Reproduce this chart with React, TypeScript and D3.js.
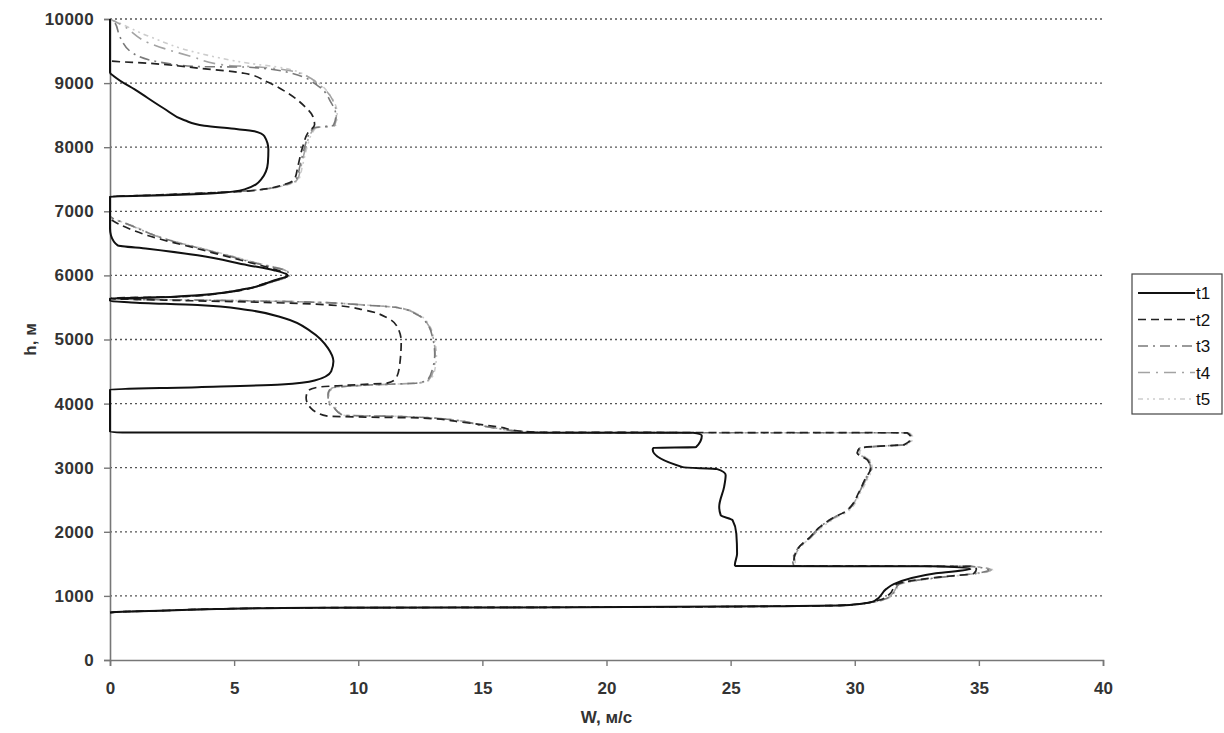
import { useRef, useEffect } from 'react';
import * as d3 from 'd3';

type Pt = [number, number]; // [W, h]

const xTicks = [0, 5, 10, 15, 20, 25, 30, 35, 40];
const yTicks = [0, 1000, 2000, 3000, 4000, 5000, 6000, 7000, 8000, 9000, 10000];
const seriesNames = ['t1', 't2', 't3', 't4', 't5'];

const t1: Pt[] = [
  [0, 740], [0.5, 753], [2.3, 772], [4.3, 796], [8.3, 815], [19, 823], [27.7, 842], [29.4, 852],
  [30.2, 874], [30.8, 922], [31.26, 1105], [31.57, 1184], [33.27, 1352], [34.66, 1420], [33.1, 1462],
  [25.2, 1467], [25.17, 1483], [25.26, 1656], [25.23, 1970], [25.08, 2180], [24.6, 2259], [24.54, 2390],
  [24.74, 2705], [24.8, 2888], [24.46, 2977], [23.07, 3009], [21.86, 3282], [21.9, 3310], [23.6, 3320],
  [23.84, 3500], [23.5, 3544], [0.5, 3550], [0, 3560], [0, 4220], [3.53, 4256], [6.9, 4297], [8.24, 4359],
  [8.91, 4504], [9.0, 4659], [8.78, 4866], [8.1, 5124], [7.03, 5331], [5.55, 5460], [3.53, 5537],
  [0.85, 5579], [0, 5600], [0, 5640], [1.52, 5651], [3.53, 5692], [5.55, 5796], [6.63, 5925], [7.16, 6000],
  [6.6, 6080], [5.55, 6160], [3.53, 6313], [1.52, 6416], [0.31, 6468], [0.04, 6623], [0, 6726], [0, 7228],
  [2.19, 7249], [4.2, 7280], [5.42, 7342], [6.09, 7497], [6.36, 7756], [6.38, 7964], [6.22, 8171],
  [5.82, 8249], [4.88, 8290], [3.8, 8335], [3.0, 8420], [2.19, 8600], [1.12, 8870], [0.17, 9104],
  [0, 9166], [0, 10000],
];

const t2: Pt[] = [
  [0, 740], [0.5, 753], [2.3, 772], [4.3, 796], [8.3, 815], [19, 823], [27.7, 842], [29.4, 852],
  [30.2, 874], [30.6, 900], [31.1, 948], [31.4, 1027], [31.7, 1184], [33.3, 1289], [34.8, 1352],
  [34.9, 1420], [34.66, 1460], [27.55, 1467], [27.55, 1551], [27.7, 1735], [28.2, 1918], [28.6, 2076],
  [29.2, 2233], [29.6, 2311], [30.18, 2626], [30.4, 2810], [30.64, 2993], [30.5, 3124], [30.1, 3229],
  [30.2, 3308], [30.9, 3334], [32.0, 3360], [32.26, 3465], [32.1, 3544], [17.3, 3553], [16.6, 3568],
  [15.7, 3632], [14.17, 3710], [12.63, 3774], [10.3, 3790], [8.76, 3805], [8.3, 3868], [8.1, 3925],
  [7.9, 4090], [7.97, 4194], [8.37, 4256], [9.58, 4287], [11.2, 4323], [11.53, 4400], [11.67, 4607],
  [11.73, 4969], [11.6, 5176], [11.2, 5331], [10.25, 5460], [8.91, 5537], [6.22, 5579], [2.19, 5615],
  [0, 5640], [0.3, 5651], [2.86, 5667], [4.88, 5744], [6.22, 5873], [7.16, 6000], [6.76, 6080],
  [5.55, 6209], [3.53, 6416], [1.52, 6623], [0.1, 6855], [0, 6880], [0, 7228], [1.52, 7249], [3.53, 7280],
  [5.55, 7316], [7.03, 7420], [7.43, 7497], [7.57, 7705], [7.77, 8016], [7.97, 8223], [8.24, 8352],
  [8.17, 8482], [7.84, 8637], [7.16, 8845], [6.3, 9024], [5.4, 9154], [3.6, 9232], [1.6, 9309],
  [0, 9349], [0, 10000],
];

const t3: Pt[] = [
  [0, 740], [0.5, 753], [2.3, 772], [4.3, 796], [8.3, 815], [19, 823], [27.7, 842], [29.4, 852],
  [30.2, 874], [30.7, 900], [31.2, 948], [31.5, 1027], [31.8, 1184], [33.4, 1289], [34.9, 1352],
  [35.4, 1404], [34.7, 1460], [27.55, 1467], [27.5, 1551], [27.7, 1735], [28.2, 1918], [28.6, 2076],
  [29.2, 2233], [29.6, 2311], [30.2, 2626], [30.4, 2810], [30.64, 2993], [30.5, 3124], [30.1, 3229],
  [30.2, 3308], [30.9, 3334], [32.0, 3360], [32.3, 3465], [32.1, 3544], [18, 3548], [16.8, 3560],
  [15.5, 3620], [13.4, 3763], [11.1, 3805], [9.4, 3816], [8.9, 3974], [8.84, 3987], [8.78, 4142],
  [8.9, 4245], [10.25, 4287], [12.4, 4323], [12.8, 4375], [13.0, 4556], [13.08, 4762], [13.0, 5021],
  [12.8, 5227], [12.4, 5382], [11.6, 5496], [10.25, 5537], [7.57, 5589], [3.53, 5615], [0.5, 5630],
  [0, 5640], [0.5, 5648], [3, 5670], [5, 5760], [6.5, 5899], [7.23, 6013], [7.03, 6080], [5.95, 6183],
  [4.2, 6364], [2.19, 6571], [0.85, 6778], [0, 6933], [0, 7228], [1.52, 7249], [3.53, 7282],
  [5.55, 7320], [7.1, 7420], [7.5, 7497], [7.65, 7705], [7.85, 8016], [8.05, 8223], [8.2, 8300],
  [9.0, 8340], [9.1, 8500], [8.9, 8700], [8.4, 8950], [7.3, 9155], [5.5, 9250], [3.6, 9257],
  [2.3, 9309], [0.93, 9465], [0.4, 9720], [0.2, 9940], [0, 10000],
];

const t4: Pt[] = [
  [0, 740], [0.5, 753], [2.3, 772], [4.3, 796], [8.3, 815], [19, 823], [27.7, 842], [29.4, 852],
  [30.2, 874], [30.7, 900], [31.2, 948], [31.5, 1027], [31.8, 1184], [33.4, 1289], [34.9, 1352],
  [35.5, 1404], [34.7, 1460], [27.6, 1467], [27.55, 1551], [27.75, 1735], [28.25, 1918], [28.65, 2076],
  [29.25, 2233], [29.65, 2311], [30.2, 2626], [30.45, 2810], [30.68, 2993], [30.55, 3124], [30.15, 3229],
  [30.25, 3308], [30.95, 3334], [32.05, 3360], [32.3, 3465], [32.15, 3544], [18, 3548], [16.8, 3560],
  [15.5, 3620], [13.4, 3763], [11.1, 3805], [9.4, 3816], [8.9, 3974], [8.84, 3987], [8.8, 4142],
  [8.95, 4245], [10.3, 4287], [12.45, 4323], [12.85, 4375], [13.05, 4556], [13.1, 4762], [13.02, 5021],
  [12.82, 5227], [12.42, 5382], [11.62, 5496], [10.3, 5537], [7.6, 5589], [3.55, 5615], [0.5, 5630],
  [0, 5640], [0.5, 5648], [3.1, 5672], [5.1, 5762], [6.55, 5900], [7.25, 6013], [7.05, 6080],
  [6.0, 6183], [4.25, 6364], [2.2, 6571], [0.85, 6778], [0, 6933], [0, 7228], [1.55, 7249],
  [3.55, 7282], [5.6, 7320], [7.15, 7420], [7.55, 7497], [7.7, 7705], [7.9, 8016], [8.1, 8223],
  [8.25, 8300], [9.05, 8335], [9.12, 8500], [8.95, 8750], [8.5, 8950], [7.5, 9170], [6, 9250],
  [4.6, 9282], [3.3, 9413], [1.6, 9620], [0.5, 9900], [0, 10000],
];

const t5: Pt[] = [
  [0, 740], [0.5, 753], [2.3, 772], [4.3, 796], [8.3, 815], [19, 823], [27.7, 842], [29.4, 852],
  [30.2, 874], [30.75, 900], [31.25, 948], [31.55, 1027], [31.85, 1184], [33.5, 1289], [35.0, 1352],
  [35.55, 1404], [34.75, 1460], [27.6, 1467], [27.6, 1551], [27.75, 1735], [28.25, 1918], [28.7, 2076],
  [29.3, 2233], [29.7, 2311], [30.25, 2626], [30.5, 2810], [30.7, 2993], [30.6, 3124], [30.2, 3229],
  [30.3, 3308], [31.0, 3334], [32.1, 3360], [32.35, 3465], [32.2, 3544], [18, 3548], [16.8, 3560],
  [15.5, 3620], [13.4, 3763], [11.1, 3805], [9.45, 3816], [8.95, 3974], [8.88, 3987], [8.82, 4142],
  [8.98, 4245], [10.35, 4287], [12.5, 4323], [12.9, 4375], [13.1, 4556], [13.15, 4762], [13.05, 5021],
  [12.85, 5227], [12.45, 5382], [11.65, 5496], [10.35, 5537], [7.65, 5589], [3.6, 5615], [0.5, 5630],
  [0, 5640], [0.5, 5648], [3.1, 5672], [5.1, 5762], [6.6, 5900], [7.28, 6013], [7.08, 6080],
  [6.05, 6183], [4.3, 6364], [2.25, 6571], [0.9, 6778], [0, 6933], [0, 7228], [1.6, 7249],
  [3.6, 7282], [5.65, 7320], [7.2, 7420], [7.6, 7497], [7.75, 7705], [7.95, 8016], [8.15, 8223],
  [8.3, 8300], [9.1, 8346], [9.15, 8533], [8.9, 8788], [8.2, 9048], [7, 9235], [5.6, 9309],
  [3.6, 9465], [1.6, 9724], [0.3, 9950], [0, 10000],
];

const seriesData = [t1, t2, t3, t4, t5];
const seriesColor = ['#111111', '#222222', '#7a7a7a', '#a3a3a3', '#cdcdcd'];
const seriesDash = ['none', '8,5', '10,5,2,5', '12,6,2,6', '5,4,2,4,2,4'];
const seriesWidth = [2, 1.7, 1.6, 1.6, 1.6];

function App() {
  const svgRef = useRef<SVGSVGElement | null>(null);
  const width = 1224;
  const height = 733;

  useEffect(() => {
    const svg = d3.select(svgRef.current);
    svg.selectAll('*').remove();

    const margin = { top: 19, right: 121, bottom: 73, left: 110 };

    const x = d3.scaleLinear().domain([0, 40]).range([margin.left, width - margin.right]);
    const y = d3.scaleLinear().domain([0, 10000]).range([height - margin.bottom, margin.top]);

    svg.append('rect').attr('width', width).attr('height', height).attr('fill', '#fff');

    // dotted horizontal grid
    svg
      .append('g')
      .selectAll('line')
      .data(yTicks.filter((d) => d > 0))
      .join('line')
      .attr('x1', x(0))
      .attr('x2', x(40))
      .attr('y1', (d) => y(d))
      .attr('y2', (d) => y(d))
      .attr('stroke', '#555')
      .attr('stroke-width', 1.3)
      .attr('stroke-dasharray', '2,3');

    const axisFont = '"Liberation Sans", Arial, sans-serif';

    svg
      .append('g')
      .attr('transform', `translate(${x(0)},0)`)
      .call(d3.axisLeft(y).tickValues(yTicks).tickSize(6).tickPadding(10).tickFormat((d) => `${d}`))
      .call((g) => g.select('.domain').attr('stroke', '#777').attr('stroke-width', 1.6))
      .call((g) => g.selectAll('.tick line').attr('stroke', '#777').attr('stroke-width', 1.4))
      .call((g) =>
        g
          .selectAll('.tick text')
          .attr('fill', '#333')
          .attr('font-size', 17)
          .attr('font-weight', 'bold')
          .attr('font-family', axisFont)
          .style('letter-spacing', '0.4px')
      );

    svg
      .append('g')
      .attr('transform', `translate(0,${y(0)})`)
      .call(d3.axisBottom(x).tickValues(xTicks).tickSize(6).tickPadding(16).tickFormat((d) => `${d}`))
      .call((g) => g.select('.domain').attr('stroke', '#777').attr('stroke-width', 1.6))
      .call((g) => g.selectAll('.tick line').attr('stroke', '#777').attr('stroke-width', 1.4))
      .call((g) =>
        g
          .selectAll('.tick text')
          .attr('fill', '#333')
          .attr('font-size', 17)
          .attr('font-weight', 'bold')
          .attr('font-family', axisFont)
      );

    svg
      .append('text')
      .attr('x', (x(0) + x(40)) / 2)
      .attr('y', 723)
      .attr('text-anchor', 'middle')
      .attr('fill', '#333')
      .attr('font-size', 17)
      .attr('font-weight', 'bold')
      .attr('font-family', axisFont)
      .text('W, м/с');

    svg
      .append('text')
      .attr('transform', `translate(36,${y(5000)}) rotate(-90)`)
      .attr('text-anchor', 'middle')
      .attr('fill', '#333')
      .attr('font-size', 17)
      .attr('font-weight', 'bold')
      .attr('font-family', axisFont)
      .text('h, м');

    // profiles are W(h) with h ascending, so interpolate monotonically along h
    const line = d3
      .line<Pt>()
      .x((d) => x(d[0]))
      .y((d) => y(d[1]))
      .curve(d3.curveMonotoneY);

    // draw lighter series first so the black ones stay on top
    [4, 3, 2, 1, 0].forEach((i) => {
      svg
        .append('path')
        .datum(seriesData[i])
        .attr('fill', 'none')
        .attr('stroke', seriesColor[i])
        .attr('stroke-width', seriesWidth[i])
        .attr('stroke-dasharray', seriesDash[i])
        .attr('stroke-linejoin', 'round')
        .attr('d', line);
    });

    // legend
    const legend = svg.append('g').attr('transform', 'translate(1132,274)');
    legend
      .append('rect')
      .attr('width', 90)
      .attr('height', 140)
      .attr('fill', '#fff')
      .attr('stroke', '#444')
      .attr('stroke-width', 1.2);

    seriesNames.forEach((name, i) => {
      const ly = 19 + i * 26.5;
      legend
        .append('line')
        .attr('x1', 6)
        .attr('x2', 63)
        .attr('y1', ly)
        .attr('y2', ly)
        .attr('stroke', seriesColor[i])
        .attr('stroke-width', seriesWidth[i])
        .attr('stroke-dasharray', seriesDash[i]);
      legend
        .append('text')
        .attr('x', 64)
        .attr('y', ly + 6)
        .attr('fill', '#111')
        .attr('font-size', 17)
        .attr('font-family', axisFont)
        .text(name);
    });
  }, []);

  return (
    <svg
      ref={svgRef}
      width={width}
      height={height}
      style={{ position: 'absolute', left: 0, top: 0 }}
    ></svg>
  );
}

export default App;
